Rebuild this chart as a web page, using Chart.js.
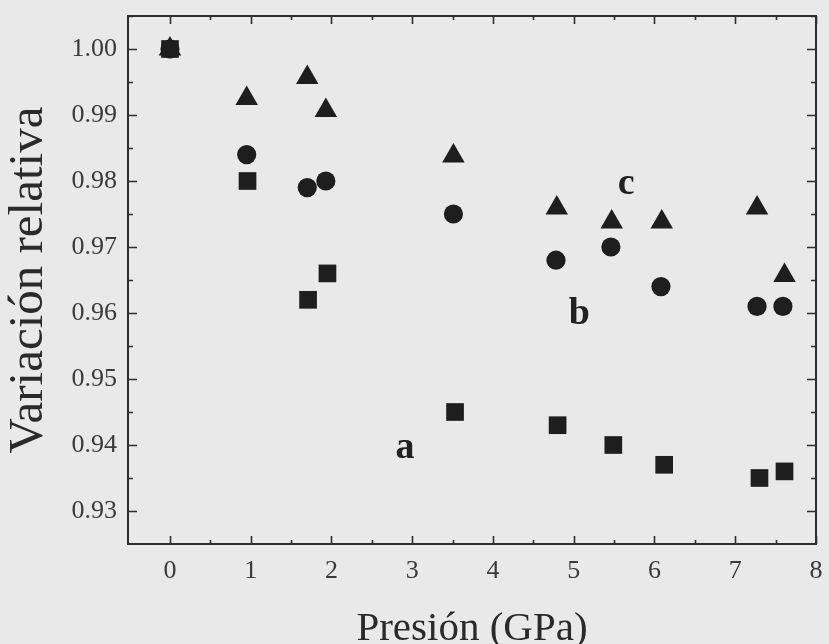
<!DOCTYPE html>
<html>
<head>
<meta charset="utf-8">
<script src="https://cdn.jsdelivr.net/npm/chart.js@4.4.1/dist/chart.umd.min.js"></script>
<style>
  html, body { margin: 0; padding: 0; background: #e9e9e9; }
  #wrap { width: 829px; height: 644px; }
</style>
</head>
<body>
<div id="wrap"><canvas id="grafica" width="829" height="644"></canvas></div>
<script>
// datos
const presionA = [0, 0.96, 1.71, 1.95, 3.53, 4.80, 5.49, 6.12, 7.30, 7.61]
const variacionA = [1.000, 0.980, 0.962, 0.966, 0.945, 0.943, 0.940, 0.937, 0.935, 0.936]
const presionB = [0, 0.95, 1.70, 1.93, 3.51, 4.78, 5.46, 6.08, 7.27, 7.59]
const variacionB = [1.000, 0.984, 0.979, 0.980, 0.975, 0.968, 0.970, 0.964, 0.961, 0.961]
const presionC = [0, 0.95, 1.70, 1.93, 3.51, 4.79, 5.47, 6.09, 7.27, 7.61]
const variacionC = [1.000, 0.9925, 0.9957, 0.9907, 0.9838, 0.9759, 0.9738, 0.9738, 0.9759, 0.9657]
const xTicks = [0, 1, 2, 3, 4, 5, 6, 7, 8]
const yTicks = [0.93, 0.94, 0.95, 0.96, 0.97, 0.98, 0.99, 1.00]
const etiquetas = ['a', 'b', 'c']

const puntos = (xs, ys) => xs.map((x, i) => ({ x: x, y: ys[i] }))

const serif = 'Liberation Serif, Times New Roman, serif'
const tinta = '#1e1e1e'

// marco con marcas hacia dentro y letras de cada serie
const marco = {
  id: 'marco',
  beforeDraw (chart) {
    const ctx = chart.ctx
    ctx.save()
    ctx.fillStyle = '#e9e9e9'
    ctx.fillRect(0, 0, chart.width, chart.height)
    ctx.restore()
  },
  afterDraw (chart) {
    const ctx = chart.ctx
    const a = chart.chartArea
    const sx = chart.scales.x
    const sy = chart.scales.y
    ctx.save()
    ctx.strokeStyle = '#2e2e2e'
    ctx.lineWidth = 2
    ctx.strokeRect(a.left, a.top, a.right - a.left, a.bottom - a.top)
    ctx.lineWidth = 1.6
    ctx.beginPath()
    for (let v = 0; v <= 8; v += 0.5) {
      const px = Math.round(sx.getPixelForValue(v)) + 0.5
      const l = Number.isInteger(v) ? 8 : 4
      ctx.moveTo(px, a.bottom); ctx.lineTo(px, a.bottom - l)
      ctx.moveTo(px, a.top); ctx.lineTo(px, a.top + l)
    }
    for (let k = 0; k <= 15; k++) {
      const v = 0.93 + k * 0.005
      const py = Math.round(sy.getPixelForValue(v)) + 0.5
      const l = k % 2 === 0 ? 9 : 5
      ctx.moveTo(a.left, py); ctx.lineTo(a.left + l, py)
      ctx.moveTo(a.right, py); ctx.lineTo(a.right - l, py)
    }
    ctx.stroke()
    // letras a, b, c
    const pos = [[2.91, 0.9381], [5.07, 0.9584], [5.65, 0.978]]
    ctx.fillStyle = '#222'
    ctx.font = 'bold 38px ' + serif
    ctx.textAlign = 'center'
    ctx.textBaseline = 'alphabetic'
    etiquetas.forEach((t, i) => {
      ctx.fillText(t, sx.getPixelForValue(pos[i][0]), sy.getPixelForValue(pos[i][1]))
    })
    ctx.restore()
  }
}

const ctx = document.getElementById('grafica')
new Chart(ctx, {
  type: 'scatter',
  data: {
    datasets: [{
      label: 'a',
      data: puntos(presionA, variacionA),
      pointStyle: 'rect',
      pointRadius: 12.5,
      backgroundColor: tinta,
      borderColor: tinta,
      borderWidth: 0
    }, {
      label: 'b',
      data: puntos(presionB, variacionB),
      pointStyle: 'circle',
      pointRadius: 9.6,
      backgroundColor: tinta,
      borderColor: tinta,
      borderWidth: 0
    }, {
      label: 'c',
      data: puntos(presionC, variacionC),
      pointStyle: 'triangle',
      pointRadius: 13,
      backgroundColor: tinta,
      borderColor: tinta,
      borderWidth: 0
    }]
  },
  options: {
    responsive: false,
    animation: false,
    layout: { padding: { top: 16, right: 11, left: 0, bottom: 0 } },
    plugins: {
      legend: { display: false },
      tooltip: { enabled: false }
    },
    scales: {
      x: {
        type: 'linear',
        min: -0.52,
        max: 8,
        afterBuildTicks: (s) => { s.ticks = xTicks.map(v => ({ value: v })) },
        afterFit: (s) => { s.height = 100; s.paddingLeft = 0; s.paddingRight = 0 },
        grid: { display: false, drawTicks: false },
        border: { display: false },
        ticks: {
          font: { family: serif, size: 26 },
          color: '#3a3a3a',
          padding: 12,
          maxRotation: 0
        },
        title: {
          display: true,
          text: 'Presión (GPa)',
          font: { family: serif, size: 41, lineHeight: 0.72 },
          color: '#2a2a2a',
          padding: 0
        }
      },
      y: {
        min: 0.925,
        max: 1.005,
        afterBuildTicks: (s) => { s.ticks = yTicks.map(v => ({ value: v })) },
        afterFit: (s) => { s.width = 128; s.paddingTop = 0; s.paddingBottom = 0 },
        grid: { display: false, drawTicks: false },
        border: { display: false },
        ticks: {
          font: { family: serif, size: 26 },
          color: '#3a3a3a',
          padding: 11,
          callback: (v) => Number(v).toFixed(2)
        },
        title: {
          display: true,
          text: 'Variación relativa',
          font: { family: serif, size: 49 },
          color: '#2a2a2a',
          padding: 0
        }
      }
    }
  },
  plugins: [marco]
})
</script>
</body>
</html>
